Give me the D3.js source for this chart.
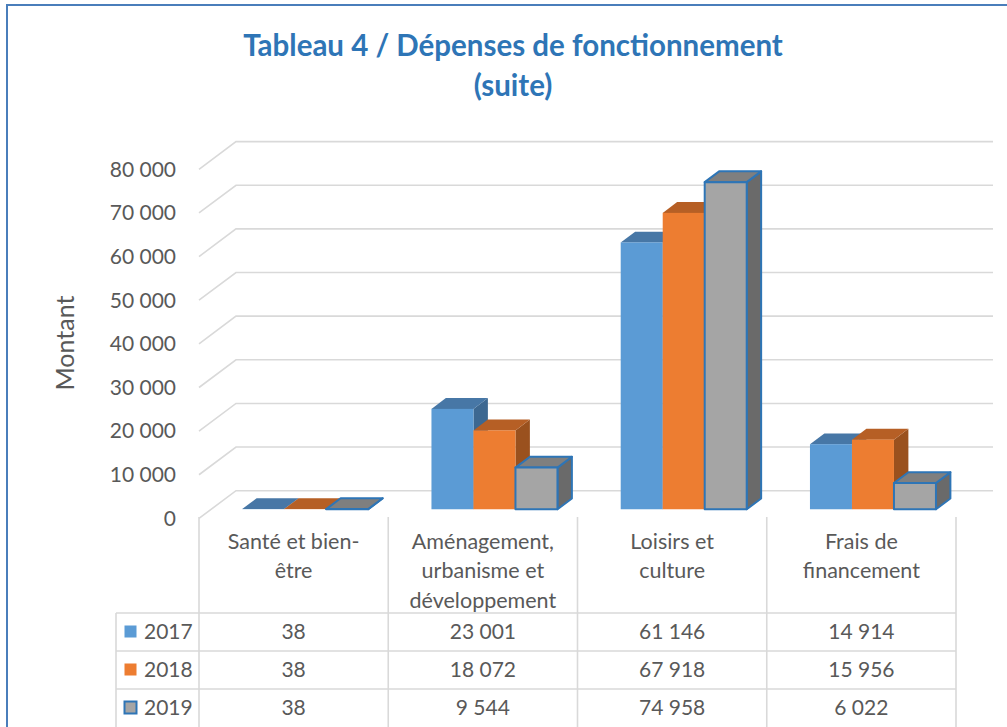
<!DOCTYPE html>
<html>
<head>
<meta charset="utf-8">
<script src="https://cdn.jsdelivr.net/npm/d3@7"></script>
<style>
  body { margin: 0; background: #fff; }
  svg text { font-family: Lato, "Open Sans", sans-serif; fill: #595959; }
</style>
</head>
<body>
<svg id="chart" width="1007" height="727"></svg>
<script>
var titleLines = ["Tableau 4 / Dépenses de fonctionnement", "(suite)"];
var categories = ["Santé et bien-être", "Aménagement, urbanisme et développement", "Loisirs et culture", "Frais de financement"];
var categoryLines = [["Santé et bien-", "être"], ["Aménagement,", "urbanisme et", "développement"], ["Loisirs et", "culture"], ["Frais de", "financement"]];
var years = ["2017", "2018", "2019"];
var values2017 = [38, 23001, 61146, 14914];
var values2018 = [38, 18072, 67918, 15956];
var values2019 = [38, 9544, 74958, 6022];
var yTicks = [0, 10000, 20000, 30000, 40000, 50000, 60000, 70000, 80000];
var yLabel = "Montant";

var series = [
  {year: years[0], values: values2017, front: "#5B9BD5", top: "#4777A6", side: "#3D6891", stroke: null},
  {year: years[1], values: values2018, front: "#ED7D31", top: "#B65F25", side: "#9A511E", stroke: null},
  {year: years[2], values: values2019, front: "#A5A5A5", top: "#7F7F7F", side: "#6A6A6A", stroke: "#2E75B6"}
];

// depth vector of the 3d box and where the bars sit in it
var DX = 37, DY = 27.7, dFront = 0.33, dBack = 0.72;

var svg = d3.select("#chart");
var fmt = function(v) { return d3.format(",")(v).replace(/,/g, " "); };

var x = d3.scaleBand().domain(categories).range([199, 956]);
var x1 = d3.scaleBand().domain(years).range([31, 157]);
var y = d3.scaleLinear().domain([0, 80000]).range([518.4, 169.3]);

// outer frame
svg.append("path")
  .attr("d", "M7,727 V5 H1007")
  .attr("fill", "none").attr("stroke", "#4A7EBB").attr("stroke-width", 2);

// title
svg.append("g").selectAll("text").data(titleLines).join("text")
  .attr("x", 513).attr("y", function(d, i) { return 56 + i * 40; })
  .attr("text-anchor", "middle")
  .style("font-size", "29.5px").style("font-weight", "bold").style("fill", "#2E75B6")
  .text(function(d) { return d; });

// back wall gridlines
var grid = svg.append("g");
grid.selectAll("path").data(yTicks).join("path")
  .attr("d", function(t) {
    var x0 = x.range()[0], yy = y(t);
    return "M" + x0 + "," + yy + " L" + (x0 + DX) + "," + (yy - DY) + " H" + (x.range()[1] + DX);
  })
  .attr("fill", "none").attr("stroke", "#D9D9D9").attr("stroke-width", 1.6);

// y axis labels
svg.append("g").selectAll("text").data(yTicks).join("text")
  .attr("x", 176).attr("y", function(t) { return y(t); })
  .attr("dy", "0.35em").attr("text-anchor", "end")
  .style("font-size", "21px")
  .text(function(t) { return fmt(t); });

svg.append("text")
  .attr("transform", "translate(74,343) rotate(-90)")
  .attr("text-anchor", "middle")
  .style("font-size", "25px")
  .text(yLabel);

// bars
var bars = svg.append("g");
categories.forEach(function(cat, i) {
  series.forEach(function(s) {
    var v = s.values[i];
    var xl = x(cat) + x1(s.year) + dFront * DX,
      xr = xl + x1.bandwidth(),
      yb = y(0) - dFront * DY,
      yt = y(v) - dFront * DY,
      ox = (dBack - dFront) * DX,
      oy = (dBack - dFront) * DY;
    var g = bars.append("g")
      .attr("stroke", s.stroke || "none")
      .attr("stroke-width", s.stroke ? 2 : 0)
      .attr("stroke-linejoin", "round");
    g.append("path")
      .attr("d", "M" + xr + "," + yb + " L" + (xr + ox) + "," + (yb - oy) + " L" + (xr + ox) + "," + (yt - oy) + " L" + xr + "," + yt + "Z")
      .attr("fill", s.side);
    g.append("path")
      .attr("d", "M" + xl + "," + yt + " L" + (xl + ox) + "," + (yt - oy) + " L" + (xr + ox) + "," + (yt - oy) + " L" + xr + "," + yt + "Z")
      .attr("fill", s.top);
    g.append("rect")
      .attr("x", xl).attr("y", yt)
      .attr("width", x1.bandwidth()).attr("height", Math.max(0, yb - yt))
      .attr("fill", s.front);
  });
});

// data table
var rowY = d3.scaleBand().domain(years).range([613, 727]);
var table = svg.append("g").attr("stroke", "#D9D9D9").attr("stroke-width", 1.6);
x.domain().concat(["end"]).forEach(function(cat, i) {
  var xx = i < categories.length ? x(cat) : x.range()[1];
  table.append("line").attr("x1", xx).attr("x2", xx).attr("y1", 517).attr("y2", 727);
});
table.append("line").attr("x1", 116).attr("x2", 116).attr("y1", 613).attr("y2", 727);
years.forEach(function(yr) {
  table.append("line").attr("x1", 116).attr("x2", x.range()[1])
    .attr("y1", rowY(yr)).attr("y2", rowY(yr));
});

// category labels
categories.forEach(function(cat, i) {
  svg.append("g").selectAll("text").data(categoryLines[i]).join("text")
    .attr("x", x(cat) + x.bandwidth() / 2)
    .attr("y", function(d, k) { return 541 + k * 29.5; })
    .attr("dy", "0.35em").attr("text-anchor", "middle")
    .style("font-size", "21.5px")
    .text(function(d) { return d; });
});

// table rows
series.forEach(function(s) {
  var cy = rowY(s.year) + rowY.bandwidth() / 2;
  svg.append("rect")
    .attr("x", 124.5).attr("y", cy - 6.5).attr("width", 12).attr("height", 12)
    .attr("fill", s.front)
    .attr("stroke", s.stroke || "none").attr("stroke-width", s.stroke ? 2 : 0);
  svg.append("text")
    .attr("x", 144).attr("y", cy).attr("dy", "0.35em")
    .style("font-size", "21px")
    .text(s.year);
  svg.append("g").selectAll("text").data(s.values).join("text")
    .attr("x", function(d, i) { return x(categories[i]) + x.bandwidth() / 2; })
    .attr("y", cy).attr("dy", "0.35em").attr("text-anchor", "middle")
    .style("font-size", "21px")
    .text(function(d) { return fmt(d); });
});
</script>
</body>
</html>
